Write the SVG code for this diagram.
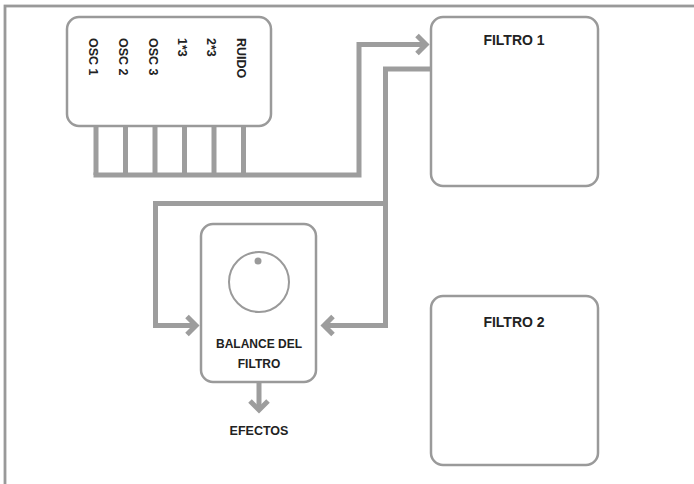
<svg xmlns="http://www.w3.org/2000/svg" width="694" height="484" viewBox="0 0 694 484">
<style>
.box{fill:#fff;stroke:#9a9a9a;stroke-width:2.5}
.wire{fill:none;stroke:#9d9d9d;stroke-width:5;stroke-linejoin:miter;stroke-linecap:butt}
.head{fill:none;stroke:#9d9d9d;stroke-width:5;stroke-linejoin:miter;stroke-linecap:butt}
.t{font-family:"Liberation Sans",Arial,Helvetica,sans-serif;font-weight:bold;fill:#222}
.lbl{font-size:12.5px}
.ttl{font-size:14px;text-anchor:middle}
.ctr{font-size:12px;text-anchor:middle}
</style>
<rect x="0" y="0" width="694" height="484" fill="#fff"/>
<rect id="frame" x="5" y="6" width="720" height="520" fill="none" stroke="#999" stroke-width="2.8"/>
<g id="connectors">
  <path class="wire" d="M96,126 V175 M125.5,126 V175 M155,126 V175 M184.5,126 V175 M214,126 V175 M243.5,126 V175"/>
  <path class="wire" d="M93.5,175 H359 V44.5 H426"/>
  <path class="head" d="M417,35.5 L426,44.5 L417,53.5"/>
  <path class="wire" d="M431,69 H385.5 V325.5 H324"/>
  <path class="head" d="M333,316.5 L324,325.5 L333,334.5"/>
  <path class="wire" d="M385.5,203.5 H155.5 V325.5 H196"/>
  <path class="head" d="M187,316.5 L196,325.5 L187,334.5"/>
  <path class="wire" d="M259,382 V410"/>
  <path class="head" d="M250,401 L259,410 L268,401"/>
</g>
<g id="mixer">
  <rect class="box" x="67" y="17" width="204" height="109" rx="12"/>
  <text class="t lbl" transform="translate(89,38) rotate(90)">OSC 1</text>
  <text class="t lbl" transform="translate(119,38) rotate(90)">OSC 2</text>
  <text class="t lbl" transform="translate(148.5,38) rotate(90)">OSC 3</text>
  <text class="t lbl" transform="translate(177.5,38) rotate(90)">1*3</text>
  <text class="t lbl" transform="translate(207,38) rotate(90)">2*3</text>
  <text class="t lbl" transform="translate(236.5,38) rotate(90)">RUIDO</text>
</g>
<g id="filtro1">
  <rect class="box" x="431" y="17" width="167" height="169" rx="12"/>
  <text class="t ttl" x="514" y="45">FILTRO 1</text>
</g>
<g id="filtro2">
  <rect class="box" x="431" y="296" width="167" height="169" rx="12"/>
  <text class="t ttl" x="514" y="327">FILTRO 2</text>
</g>
<g id="balance">
  <rect class="box" x="201" y="224" width="115" height="158" rx="12"/>
  <circle cx="259" cy="282" r="30" fill="none" stroke="#9a9a9a" stroke-width="2"/>
  <circle cx="258" cy="261" r="3.5" fill="#9a9a9a"/>
  <text class="t ctr" x="259" y="348">BALANCE DEL</text>
  <text class="t ctr" x="259" y="368">FILTRO</text>
</g>
<g id="efectos">
  <text class="t ctr" x="259" y="435" style="font-size:12.5px">EFECTOS</text>
</g>
</svg>
